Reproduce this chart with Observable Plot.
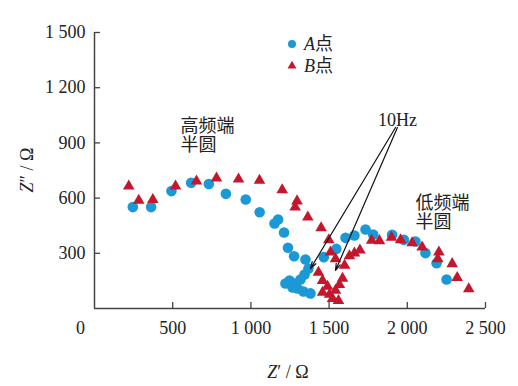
<!DOCTYPE html>
<html>
<head>
<meta charset="utf-8">
<script src="https://cdn.jsdelivr.net/npm/d3@7"></script>
<script src="https://cdn.jsdelivr.net/npm/@observablehq/plot@0.6"></script>
<style>
  html, body { margin: 0; padding: 0; background: #fff; overflow: hidden; }
  svg { display: block; }
</style>
</head>
<body>
<div id="chart"></div>
<script>
// Series A (blue circles): Z' (Ω), Z'' (Ω)
const aX = [245, 362, 492, 618, 731, 840, 967, 1056, 1151, 1174, 1212, 1237, 1276, 1349,
            1368, 1343, 1317, 1285, 1247, 1221, 1266, 1298, 1336, 1381,
            1466, 1546, 1605, 1662, 1733, 1782, 1903, 1978, 2052, 2116, 2187, 2251];
const aY = [551, 551, 638, 683, 677, 623, 592, 523, 462, 484, 413, 330, 284, 266,
            217, 185, 158, 136, 152, 136, 114, 109, 92, 82,
            279, 324, 384, 397, 429, 402, 401, 373, 364, 301, 246, 158];
// Series B (red triangles)
const bX = [219, 283, 373, 518, 652, 780, 921, 1055, 1200, 1295, 1283, 1364, 1449, 1498, 1509, 1541,
            1432, 1458, 1490, 1458, 1503, 1541, 1566, 1586, 1522, 1560, 1599,
            1630, 1662, 1697, 1772, 1822, 1899, 1957, 2031, 2095, 2202, 2195, 2287, 2319, 2393];
const bY = [665, 587, 592, 665, 692, 708, 703, 696, 645, 584, 551, 496, 438, 373, 306, 270,
            196, 152, 120, 87, 76, 98, 130, 163, 54, 43, 234,
            286, 301, 317, 370, 368, 386, 373, 357, 333, 306, 270, 243, 167, 107];

const xTicks = [500, 1000, 1500, 2000, 2500];
const yTicks = [300, 600, 900, 1200, 1500];
const seriesNames = ["A点", "B点"];
const sideNotes = [
  {x: 550, y: 943, text: "高频端\n半圆"},
  {x: 2052, y: 522, text: "低频端\n半圆"}
];
const freqNote = [{x: 1937, y: 1022, text: "10Hz"}];
const arrows = [
  {x1: 1925, y1: 984, x2: 1381, y2: 217},
  {x1: 1937, y1: 984, x2: 1541, y2: 207}
];

const blue = "#1b98d6";
const red = "#c4162c";
const ink = "#222";
const fontFam = "'Liberation Serif', 'Noto Sans CJK SC', serif";
const fmt = n => n >= 1000 ? `${Math.floor(n / 1000)} ${String(n % 1000).padStart(3, "0")}` : String(n);

const A = aX.map((x, i) => ({x, y: aY[i]}));
const B = bX.map((x, i) => ({x, y: bY[i]}));

const plot = Plot.plot({
  width: 518,
  height: 386,
  marginLeft: 94,
  marginRight: 33,
  marginTop: 32,
  marginBottom: 78,
  style: {fontFamily: fontFam, fontSize: "18px", color: ink, background: "#fff"},
  x: {domain: [0, 2500]},
  y: {domain: [0, 1500]},
  marks: [
    Plot.ruleX([0], {stroke: "#444", strokeWidth: 1.5}),
    Plot.ruleY([0], {stroke: "#444", strokeWidth: 1.5}),
    Plot.axisX({ticks: xTicks, tickSize: -6, tickPadding: 19, tickFormat: fmt, stroke: "#444", strokeWidth: 1.3, label: null}),
    Plot.axisY({ticks: yTicks, tickSize: -6, tickPadding: 15, tickFormat: fmt, stroke: "#444", strokeWidth: 1.3, label: null}),
    Plot.text([{x: 0, y: 0}], {x: "x", y: "y", text: () => "0", dx: -14, dy: 20, fontSize: 18, fill: ink}),
    Plot.dot(A, {x: "x", y: "y", r: 5.3, fill: blue, symbol: "circle"}),
    Plot.dot(B, {x: "x", y: "y", r: 4.3, fill: red, symbol: "triangle"}),
    Plot.arrow(arrows, {x1: "x1", y1: "y1", x2: "x2", y2: "y2", stroke: "#111", strokeWidth: 1.2, headLength: 9, headAngle: 35}),
    Plot.text(sideNotes, {x: "x", y: "y", text: "text", textAnchor: "start", lineAnchor: "middle", lineHeight: 1.08, fontSize: 18, fill: ink}),
    Plot.text(freqNote, {x: "x", y: "y", text: "text", textAnchor: "middle", lineAnchor: "middle", fontSize: 18, fill: ink})
  ]
});

document.getElementById("chart").appendChild(plot);

// Axis titles and legend
const svg = d3.select(plot);
const xt = svg.append("text").attr("x", 288).attr("y", 378).attr("text-anchor", "middle")
  .attr("font-family", fontFam).attr("font-size", 18).attr("fill", ink);
xt.append("tspan").attr("font-style", "italic").text("Z");
xt.append("tspan").text("′ / Ω");

const yt = svg.append("text").attr("transform", "translate(33,170) rotate(-90)").attr("text-anchor", "middle")
  .attr("font-family", fontFam).attr("font-size", 18).attr("fill", ink);
yt.append("tspan").attr("font-style", "italic").text("Z");
yt.append("tspan").text("″ / Ω");

const legend = svg.append("g").attr("font-family", fontFam).attr("font-size", 18).attr("fill", ink);
const sym = [d3.symbolCircle, d3.symbolTriangle];
const symSize = [16 * Math.PI, 11 * Math.PI];
const cols = [blue, red];
seriesNames.forEach((name, i) => {
  const y = 44 + i * 22;
  legend.append("path").attr("transform", `translate(292,${y})`)
    .attr("d", d3.symbol(sym[i], symSize[i])()).attr("fill", cols[i]);
  const t = legend.append("text").attr("x", 304).attr("y", y).attr("dy", "0.35em").attr("text-anchor", "start");
  t.append("tspan").attr("font-style", "italic").text(name[0]);
  t.append("tspan").text(name.slice(1));
});
</script>
</body>
</html>
